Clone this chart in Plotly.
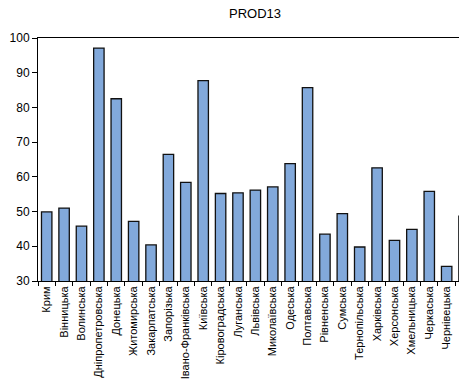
import plotly.graph_objects as go

regions = ["Крим", "Вінницька", "Волинська", "Дніпропетровська", "Донецька",
           "Житомирська", "Закарпатська", "Запорізька", "Івано-Франківська", "Київська",
           "Кіровоградська", "Луганська", "Львівська", "Миколаївська", "Одеська",
           "Полтавська", "Рівненська", "Сумська", "Тернопільська", "Харківська",
           "Херсонська", "Хмельницька", "Черкаська", "Чернівецька", "Чернігівська"]
prod13 = [49.9, 51.0, 45.8, 97.1, 82.5,
          47.2, 40.4, 66.5, 58.4, 87.7,
          55.2, 55.4, 56.2, 57.1, 63.8,
          85.7, 43.5, 49.4, 39.8, 62.6,
          41.7, 44.9, 55.8, 34.2, 48.7]
y_ticks = [30, 40, 50, 60, 70, 80, 90, 100]

font = "Liberation Sans, Arial, sans-serif"

fig = go.Figure(go.Bar(
    x=regions, y=prod13, width=0.6,
    marker=dict(color="#82A9DB", line=dict(color="#111111", width=1.3)),
))

# page body has an 8px default margin; margins below compensate for it
fig.update_layout(
    width=467, height=386,
    margin=dict(l=30, r=0, t=30, b=113, autoexpand=False),
    paper_bgcolor="white", plot_bgcolor="white",
    showlegend=False,
    font=dict(family=font, size=11, color="black"),
    title=dict(text="PROD13", x=247/467, xref="container", xanchor="center",
               y=1-5/386, yref="container", yanchor="middle",
               font=dict(family=font, size=13, color="black")),
    bargap=0.4,
)
fig.update_xaxes(
    type="category", range=[-0.5, 24.63], automargin=False,
    showline=True, linecolor="black", linewidth=1, mirror=True,
    ticks="outside", tickson="boundaries", ticklen=4, tickcolor="black",
    tickangle=-90, showgrid=False, tickfont=dict(size=11),
)
fig.update_yaxes(
    range=[30, 100], tickvals=y_ticks, automargin=False,
    showline=True, linecolor="black", linewidth=1,
    ticks="outside", ticklen=5, tickcolor="black",
    showgrid=False, zeroline=False, tickfont=dict(size=12),
)

fig.write_html("out.html")
